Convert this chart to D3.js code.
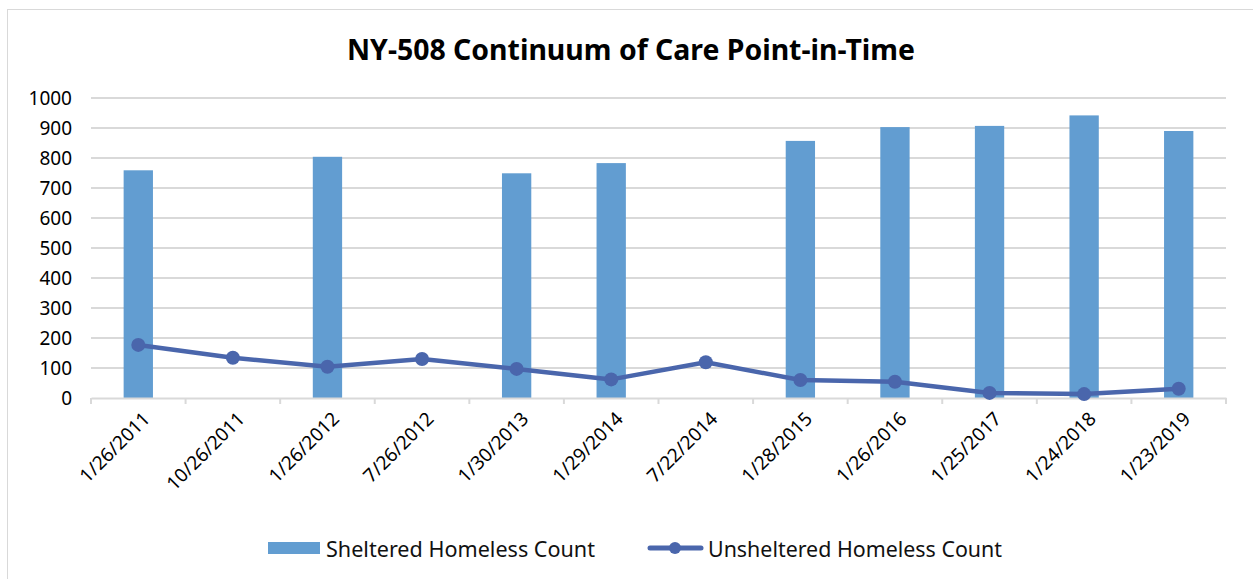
<!DOCTYPE html>
<html>
<head>
<meta charset="utf-8">
<script src="https://cdn.jsdelivr.net/npm/d3@7"></script>
<style>
  body { margin: 0; background: #fff; }
  svg { display: block; font-family: 'Noto Sans', sans-serif; }
</style>
</head>
<body>
<div id="chart"></div>
<script>
const categories = ['1/26/2011', '10/26/2011', '1/26/2012', '7/26/2012', '1/30/2013', '1/29/2014',
  '7/22/2014', '1/28/2015', '1/26/2016', '1/25/2017', '1/24/2018', '1/23/2019'];
const sheltered = [759, null, 804, null, 749, 783, null, 857, 903, 907, 942, 890];
const unsheltered = [177, 134, 104, 130, 97, 62, 119, 60, 54, 17, 13, 31];
const yTicks = [0, 100, 200, 300, 400, 500, 600, 700, 800, 900, 1000];
const seriesNames = ['Sheltered Homeless Count', 'Unsheltered Homeless Count'];

const width = 1253;
const height = 579;
const margin = { top: 98, bottom: 181, left: 91, right: 27 };
const colors = { bar: '#629dd1', line: '#4a66ac' };

const svg = d3.select('#chart')
  .append('svg')
    .attr('width', width)
    .attr('height', height);

// outer chart border
svg.append('rect')
  .attr('x', 7.5).attr('y', 9.5)
  .attr('width', width - 7).attr('height', height - 9)
  .attr('fill', '#fff')
  .attr('stroke', '#d9d9d9');

svg.append('text')
  .attr('x', 631).attr('y', 60)
  .attr('text-anchor', 'middle')
  .attr('textLength', 568)
  .attr('lengthAdjust', 'spacingAndGlyphs')
  .style('font-size', '28px')
  .style('font-weight', 'bold')
  .text('NY-508 Continuum of Care Point-in-Time');

const xScale = d3.scaleBand()
  .domain(categories)
  .range([margin.left, width - margin.right]);

const yScale = d3.scaleLinear()
  .domain([0, 1000])
  .range([height - margin.bottom, margin.top]);

// gridlines
svg.append('g')
  .selectAll('line')
  .data(yTicks.filter(d => d > 0))
  .join('line')
    .attr('x1', margin.left)
    .attr('x2', width - margin.right)
    .attr('y1', d => yScale(d))
    .attr('y2', d => yScale(d))
    .attr('stroke', '#d9d9d9')
    .attr('stroke-width', 2);

// y axis labels
const yAxis = svg.append('g')
  .attr('transform', `translate(${margin.left}, 0)`)
  .call(d3.axisLeft(yScale).tickValues(yTicks).tickFormat(d3.format('d')).tickSize(0).tickPadding(19));
yAxis.attr('font-family', null).attr('font-size', null);
yAxis.select('.domain').remove();
yAxis.selectAll('text')
  .style('font-size', '19px')
  .attr('fill', '#000');

// bars
const barWidth = xScale.bandwidth() * 0.31;
svg.append('g')
  .selectAll('rect')
  .data(categories.map((c, i) => ({ name: c, value: sheltered[i] })).filter(d => d.value != null))
  .join('rect')
    .attr('x', d => xScale(d.name) + xScale.bandwidth() / 2 - barWidth / 2)
    .attr('width', barWidth)
    .attr('y', d => yScale(d.value))
    .attr('height', d => yScale(0) - yScale(d.value))
    .attr('fill', colors.bar);

// x axis
const xAxis = svg.append('g')
  .attr('transform', `translate(0, ${yScale(0)})`)
  .call(d3.axisBottom(xScale).tickSizeOuter(0).tickSizeInner(0));
xAxis.attr('font-family', null).attr('font-size', null);
xAxis.select('.domain').attr('stroke', '#d9d9d9').attr('stroke-width', 2);
xAxis.selectAll('.tick line').remove();
xAxis.selectAll('.boundary')
  .data(d3.range(categories.length + 1))
  .join('line')
    .attr('x1', i => margin.left + i * xScale.step())
    .attr('x2', i => margin.left + i * xScale.step())
    .attr('y1', 0).attr('y2', 6)
    .attr('stroke', '#d9d9d9')
    .attr('stroke-width', 2);
xAxis.selectAll('.tick text')
  .attr('fill', '#000')
  .style('font-size', '19px')
  .attr('text-anchor', 'end')
  .attr('y', 0)
  .attr('dy', 0)
  .attr('transform', 'translate(13, 22) rotate(-45)');

// line + markers
const pts = categories.map((c, i) => ({ name: c, value: unsheltered[i] }));
const line = d3.line()
  .x(d => xScale(d.name) + xScale.bandwidth() / 2)
  .y(d => yScale(d.value));

svg.append('path')
  .datum(pts)
  .attr('d', line)
  .attr('fill', 'none')
  .attr('stroke', colors.line)
  .attr('stroke-width', 4.5)
  .attr('stroke-linejoin', 'round');

svg.append('g')
  .selectAll('circle')
  .data(pts)
  .join('circle')
    .attr('cx', d => xScale(d.name) + xScale.bandwidth() / 2)
    .attr('cy', d => yScale(d.value))
    .attr('r', 7)
    .attr('fill', colors.line);

// legend
const legend = svg.append('g').style('font-size', '21px').attr('fill', '#111');
legend.append('rect')
  .attr('x', 268).attr('y', 542)
  .attr('width', 52).attr('height', 12)
  .attr('fill', colors.bar);
legend.append('text')
  .attr('x', 326).attr('y', 557)
  .attr('textLength', 269)
  .attr('lengthAdjust', 'spacingAndGlyphs')
  .text(seriesNames[0]);
legend.append('line')
  .attr('x1', 650).attr('x2', 701)
  .attr('y1', 548).attr('y2', 548)
  .attr('stroke', colors.line)
  .attr('stroke-width', 5)
  .attr('stroke-linecap', 'round');
legend.append('circle')
  .attr('cx', 675).attr('cy', 548).attr('r', 6)
  .attr('fill', colors.line);
legend.append('text')
  .attr('x', 708).attr('y', 557)
  .attr('textLength', 294)
  .attr('lengthAdjust', 'spacingAndGlyphs')
  .text(seriesNames[1]);
</script>
</body>
</html>
